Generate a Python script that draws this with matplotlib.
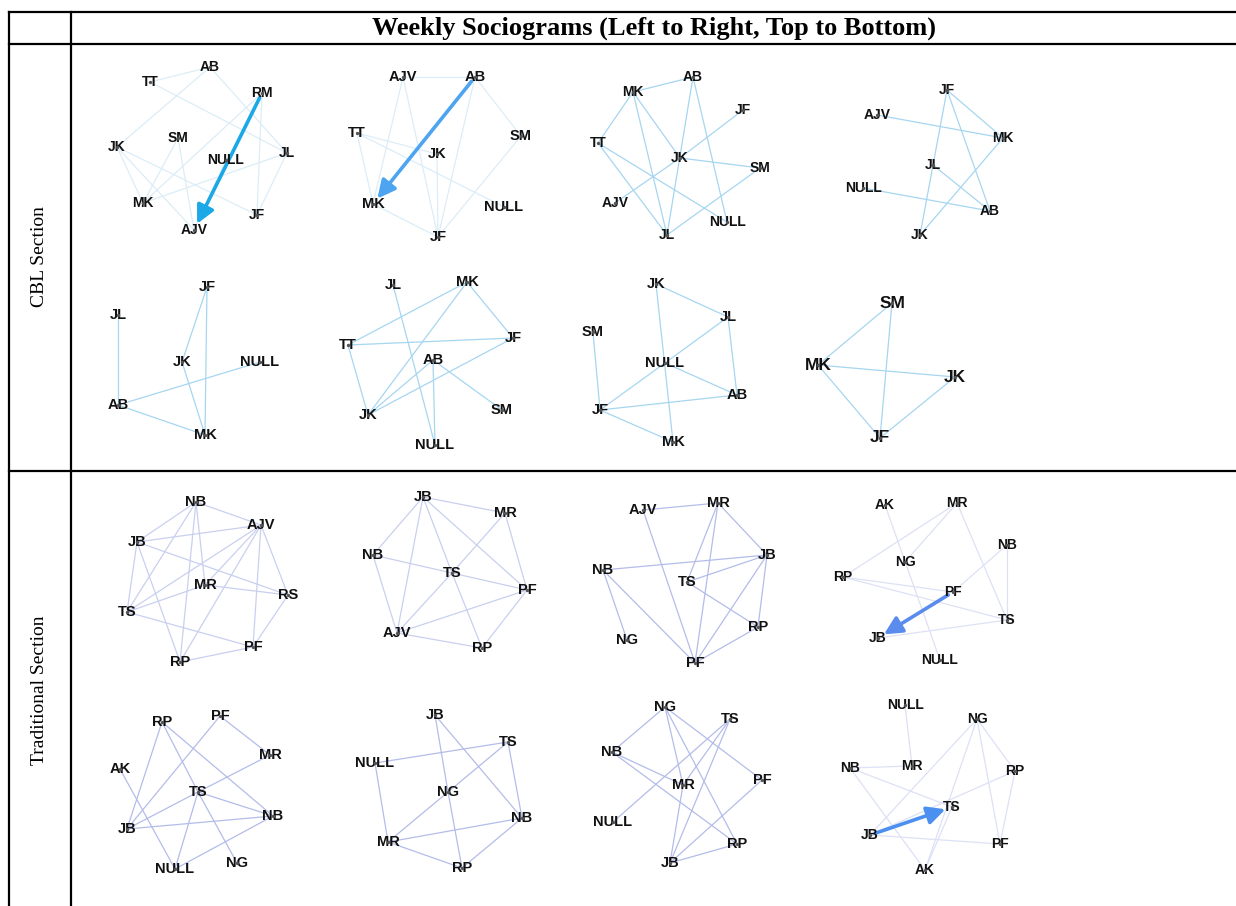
import matplotlib.pyplot as plt

plt.rcParams['font.family'] = ['Liberation Sans', 'DejaVu Sans']

# ---- data: node layouts (panel-local units) and ties per weekly sociogram ----
cbl_w1_nodes = {'AB': (110, 12), 'TT': (50, 27), 'RM': (162, 38), 'JK': (17, 92), 'SM': (78, 83),
                'NULL': (126, 105), 'JL': (187, 98), 'MK': (43, 148), 'JF': (157, 160), 'AJV': (94, 175)}
cbl_w1_edges = [('AB', 'TT'), ('AB', 'JK'), ('AB', 'JL'), ('TT', 'JL'), ('JK', 'MK'), ('JK', 'JF'),
                ('JK', 'AJV'), ('SM', 'MK'), ('SM', 'AJV'), ('MK', 'RM'), ('MK', 'JL'), ('NULL', 'AJV'),
                ('RM', 'JF'), ('JL', 'JF')]
cbl_w1_arrow = ('RM', 'AJV')

cbl_w2_nodes = {'AJV': (63, 22), 'AB': (135, 22), 'TT': (17, 78), 'SM': (181, 81), 'JK': (97, 99),
                'MK': (33, 149), 'NULL': (164, 152), 'JF': (98, 182)}
cbl_w2_edges = [('AJV', 'AB'), ('AJV', 'MK'), ('AJV', 'JF'), ('TT', 'MK'), ('TT', 'NULL'), ('AB', 'SM'),
                ('SM', 'JF'), ('AB', 'JF'), ('JK', 'JF'), ('MK', 'JF'), ('TT', 'JK')]
cbl_w2_arrow = ('AB', 'MK')

cbl_w3_nodes = {'MK': (53, 37), 'AB': (113, 22), 'JF': (163, 55), 'TT': (18, 88), 'JK': (100, 103),
                'SM': (180, 113), 'AJV': (35, 148), 'NULL': (147, 167), 'JL': (87, 180)}
cbl_w3_edges = [('MK', 'AB'), ('MK', 'TT'), ('MK', 'JL'), ('MK', 'JK'), ('AB', 'JL'), ('AB', 'NULL'),
                ('JF', 'JK'), ('JK', 'AJV'), ('JK', 'SM'), ('TT', 'JL'), ('TT', 'NULL'), ('SM', 'JL')]

cbl_w4_nodes = {'JF': (147, 35), 'AJV': (77, 60), 'MK': (203, 83), 'JL': (133, 110), 'NULL': (63, 133),
                'AB': (190, 156), 'JK': (120, 180)}
cbl_w4_edges = [('JF', 'MK'), ('JF', 'AB'), ('JF', 'JK'), ('AJV', 'MK'), ('JL', 'AB'), ('NULL', 'AB'),
                ('MK', 'JK')]

cbl_w5_nodes = {'JF': (107, 17), 'JL': (18, 45), 'JK': (82, 92), 'NULL': (160, 92), 'AB': (18, 135),
                'MK': (105, 165)}
cbl_w5_edges = [('JL', 'AB'), ('JF', 'JK'), ('JF', 'MK'), ('JK', 'MK'), ('AB', 'NULL'), ('AB', 'MK')]

cbl_w6_nodes = {'JL': (53, 15), 'MK': (127, 12), 'TT': (8, 75), 'JF': (173, 68), 'AB': (93, 90),
                'JK': (28, 145), 'SM': (162, 140), 'NULL': (95, 175)}
cbl_w6_edges = [('JL', 'NULL'), ('MK', 'TT'), ('MK', 'JK'), ('MK', 'JF'), ('TT', 'JF'), ('TT', 'JK'),
                ('AB', 'JK'), ('AB', 'SM'), ('AB', 'NULL'), ('JF', 'JK')]

cbl_w7_nodes = {'JK': (76, 14), 'JL': (148, 47), 'SM': (13, 62), 'NULL': (85, 93), 'AB': (157, 125),
                'JF': (20, 140), 'MK': (93, 172)}
cbl_w7_edges = [('JK', 'JL'), ('JK', 'MK'), ('JL', 'NULL'), ('JL', 'AB'), ('SM', 'JF'), ('NULL', 'JF'),
                ('NULL', 'AB'), ('JF', 'AB'), ('JF', 'MK')]

cbl_w8_nodes = {'SM': (92, 33), 'MK': (18, 95), 'JK': (155, 107), 'JF': (80, 168)}
cbl_w8_edges = [('SM', 'MK'), ('SM', 'JF'), ('MK', 'JK'), ('MK', 'JF'), ('JK', 'JF')]

trad_w1_nodes = {'NB': (96, 17), 'AJV': (161, 40), 'JB': (37, 57), 'MR': (105, 100), 'RS': (188, 110),
                 'TS': (27, 127), 'PF': (153, 162), 'RP': (80, 177)}
trad_w1_edges = [('NB', 'AJV'), ('NB', 'JB'), ('NB', 'TS'), ('NB', 'MR'), ('NB', 'RP'), ('AJV', 'JB'),
                 ('AJV', 'TS'), ('AJV', 'MR'), ('AJV', 'RP'), ('AJV', 'PF'), ('AJV', 'RS'), ('JB', 'TS'),
                 ('JB', 'RP'), ('JB', 'RS'), ('MR', 'TS'), ('MR', 'RS'), ('TS', 'PF'), ('RP', 'PF'),
                 ('PF', 'RS')]

trad_w2_nodes = {'JB': (83, 12), 'MR': (165, 28), 'NB': (33, 70), 'TS': (112, 88), 'PF': (187, 105),
                 'AJV': (57, 148), 'RP': (142, 163)}
trad_w2_edges = [('JB', 'MR'), ('JB', 'NB'), ('JB', 'AJV'), ('JB', 'TS'), ('JB', 'PF'), ('MR', 'TS'),
                 ('MR', 'PF'), ('NB', 'TS'), ('NB', 'AJV'), ('TS', 'PF'), ('TS', 'AJV'), ('TS', 'RP'),
                 ('AJV', 'PF'), ('AJV', 'RP'), ('RP', 'PF')]

trad_w3_nodes = {'AJV': (63, 25), 'MR': (138, 18), 'JB': (187, 70), 'NB': (23, 85), 'TS': (107, 97),
                 'RP': (178, 142), 'NG': (47, 155), 'PF': (115, 178)}
trad_w3_edges = [('AJV', 'MR'), ('AJV', 'PF'), ('MR', 'JB'), ('MR', 'TS'), ('MR', 'PF'), ('NB', 'JB'),
                 ('NB', 'NG'), ('NB', 'PF'), ('TS', 'JB'), ('TS', 'RP'), ('JB', 'PF'), ('JB', 'RP'),
                 ('RP', 'PF')]

trad_w4_nodes = {'AK': (85, 20), 'MR': (157, 18), 'NB': (207, 60), 'NG': (105, 77), 'RP': (43, 92),
                 'PF': (153, 107), 'TS': (207, 135), 'JB': (78, 153), 'NULL': (140, 175)}
trad_w4_edges = [('AK', 'NULL'), ('MR', 'RP'), ('MR', 'NG'), ('MR', 'TS'), ('NB', 'PF'), ('NB', 'TS'),
                 ('RP', 'PF'), ('RP', 'TS'), ('TS', 'JB')]
trad_w4_arrow = ('PF', 'JB')

trad_w5_nodes = {'RP': (62, 27), 'PF': (120, 21), 'MR': (170, 60), 'AK': (20, 74), 'TS': (98, 97),
                 'NB': (173, 121), 'JB': (27, 134), 'NG': (137, 168), 'NULL': (75, 174)}
trad_w5_edges = [('RP', 'JB'), ('RP', 'TS'), ('RP', 'NB'), ('PF', 'JB'), ('PF', 'MR'), ('MR', 'TS'),
                 ('AK', 'NULL'), ('TS', 'JB'), ('TS', 'NB'), ('TS', 'NULL'), ('TS', 'NG'), ('JB', 'NB'),
                 ('NULL', 'NB')]

trad_w6_nodes = {'JB': (95, 20), 'TS': (168, 47), 'NULL': (35, 68), 'NG': (108, 97), 'NB': (182, 123),
                 'MR': (48, 147), 'RP': (122, 173)}
trad_w6_edges = [('JB', 'NG'), ('JB', 'NB'), ('NG', 'RP'), ('TS', 'NULL'), ('TS', 'NG'), ('TS', 'NB'),
                 ('NULL', 'MR'), ('NG', 'MR'), ('MR', 'NB'), ('MR', 'RP'), ('RP', 'NB')]

trad_w7_nodes = {'NG': (85, 12), 'TS': (150, 24), 'NB': (32, 57), 'MR': (103, 90), 'PF': (182, 85),
                 'NULL': (33, 127), 'RP': (157, 149), 'JB': (90, 168)}
trad_w7_edges = [('NG', 'NB'), ('NG', 'PF'), ('NG', 'RP'), ('NG', 'MR'), ('TS', 'NULL'), ('TS', 'JB'),
                 ('TS', 'MR'), ('NB', 'RP'), ('NB', 'MR'), ('MR', 'JB'), ('PF', 'JB'), ('JB', 'RP')]

trad_w8_nodes = {'NULL': (105, 10), 'NG': (177, 24), 'NB': (50, 73), 'MR': (112, 71), 'RP': (215, 76),
                 'TS': (152, 112), 'JB': (70, 140), 'PF': (200, 149), 'AK': (125, 175)}
trad_w8_edges = [('NULL', 'MR'), ('NB', 'MR'), ('NB', 'TS'), ('NB', 'AK'), ('NG', 'JB'), ('NG', 'AK'),
                 ('NG', 'PF'), ('NG', 'RP'), ('RP', 'PF'), ('RP', 'JB'), ('JB', 'PF'), ('AK', 'TS')]
trad_w8_arrow = ('JB', 'TS')

header_text = 'Weekly Sociograms (Left to Right, Top to Bottom)'
section_labels = ['CBL Section', 'Traditional Section']

# (nodes, edges, arrow, edge colour, arrow colour, label size)
panels = [
    (cbl_w1_nodes, cbl_w1_edges, cbl_w1_arrow, '#dcedf7', '#1aa8e6', 10),
    (cbl_w2_nodes, cbl_w2_edges, cbl_w2_arrow, '#dcedf7', '#4da4f0', 10.5),
    (cbl_w3_nodes, cbl_w3_edges, None, '#a6d6f0', None, 10),
    (cbl_w4_nodes, cbl_w4_edges, None, '#a6d6f0', None, 10),
    (cbl_w5_nodes, cbl_w5_edges, None, '#a6d6f0', None, 10.5),
    (cbl_w6_nodes, cbl_w6_edges, None, '#a6d6f0', None, 10.5),
    (cbl_w7_nodes, cbl_w7_edges, None, '#a6d6f0', None, 10.5),
    (cbl_w8_nodes, cbl_w8_edges, None, '#a6d6f0', None, 12.5),
    (trad_w1_nodes, trad_w1_edges, None, '#c9d0ef', None, 10.5),
    (trad_w2_nodes, trad_w2_edges, None, '#c9d0ef', None, 10.5),
    (trad_w3_nodes, trad_w3_edges, None, '#b4bce9', None, 10.5),
    (trad_w4_nodes, trad_w4_edges, trad_w4_arrow, '#dde1f5', '#5a8cee', 10),
    (trad_w5_nodes, trad_w5_edges, None, '#b4bce9', None, 10.5),
    (trad_w6_nodes, trad_w6_edges, None, '#b4bce9', None, 10.5),
    (trad_w7_nodes, trad_w7_edges, None, '#b4bce9', None, 10.5),
    (trad_w8_nodes, trad_w8_edges, trad_w8_arrow, '#dde1f5', '#4b8ff0', 10),
]

W, H = 1236, 906
fig = plt.figure(figsize=(W / 100, H / 100), dpi=100)
fig.patch.set_facecolor('white')

# background axes in pixel units for the table frame
bg = fig.add_axes([0, 0, 1, 1])
bg.set_xlim(0, W)
bg.set_ylim(H, 0)
bg.axis('off')

lw = 1.6
bg.plot([9, W], [12, 12], color='black', lw=lw)
bg.plot([9, W], [44, 44], color='black', lw=lw)
bg.plot([9, W], [471, 471], color='black', lw=lw)
bg.plot([9, 9], [12, H], color='black', lw=lw)
bg.plot([71, 71], [12, H], color='black', lw=lw)

serif = ['Liberation Serif', 'DejaVu Serif']
bg.text((71 + W) / 2, 28, header_text, ha='center', va='center', fontsize=19,
        fontweight='bold', family=serif)
bg.text(40, 257, section_labels[0], ha='center', va='center', rotation=90, fontsize=14,
        family=serif)
bg.text(40, 690, section_labels[1], ha='center', va='center', rotation=90, fontsize=14,
        family=serif)

col_left = [100, 340, 580, 800]
row_top = [55, 270, 485, 695]
pw, ph = 220, 200

for i, (nodes, edges, arrow, ecol, acol, fs) in enumerate(panels):
    r, c = divmod(i, 4)
    x0, y0 = col_left[c], row_top[r]
    ax = fig.add_axes([x0 / W, 1 - (y0 + ph) / H, pw / W, ph / H])
    ax.set_xlim(0, pw)
    ax.set_ylim(ph, 0)
    ax.axis('off')

    for a, b in edges:
        (xa, ya), (xb, yb) = nodes[a], nodes[b]
        ax.plot([xa, xb], [ya, yb], color=ecol, lw=0.9, zorder=1, clip_on=False)

    if arrow is not None:
        a, b = arrow
        ax.annotate('', xy=nodes[b], xytext=nodes[a],
                    arrowprops=dict(arrowstyle='-|>,head_length=0.9,head_width=0.45',
                                    color=acol, lw=2.6, shrinkA=4, shrinkB=5,
                                    mutation_scale=12),
                    zorder=2, annotation_clip=False)

    for name, (x, y) in nodes.items():
        ax.text(x, y, name, ha='center', va='center', fontsize=fs, fontweight='bold',
                color='#111111', zorder=3, clip_on=False)
        ax.scatter([x], [y], s=2, color='#555555', zorder=4, clip_on=False)

fig.savefig('out.png', dpi=100, facecolor='white')
